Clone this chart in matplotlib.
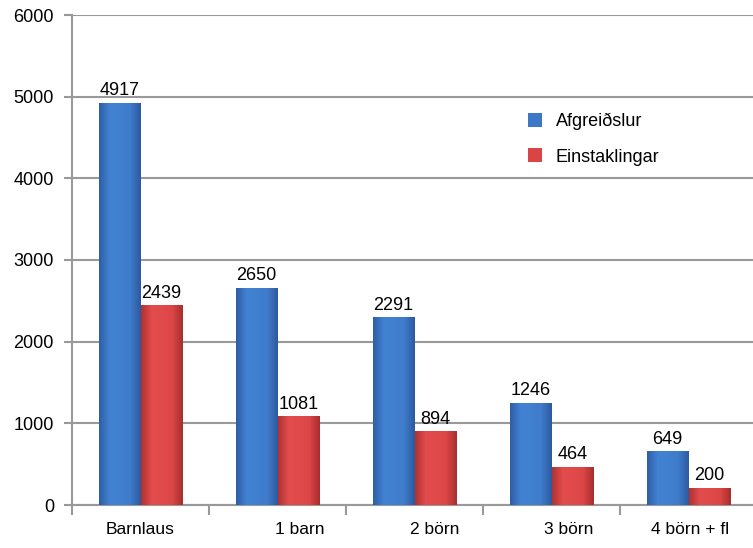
import matplotlib
matplotlib.use("Agg")
import matplotlib.pyplot as plt
from matplotlib.colors import LinearSegmentedColormap
import numpy as np

categories = ["Barnlaus", "1 barn", "2 börn", "3 börn", "4 börn + fl"]
afgreidslur = [4917, 2650, 2291, 1246, 649]
einstaklingar = [2439, 1081, 894, 464, 200]
series_names = ["Afgreiðslur", "Einstaklingar"]
yticks = [0, 1000, 2000, 3000, 4000, 5000, 6000]

# style: horizontal pixel nudges of category labels as in the reference
label_nudge_px = [0, 22, 20, 17, 2]

plt.rcParams['font.family'] = ['Liberation Sans', 'DejaVu Sans']

fig = plt.figure(figsize=(7.53, 5.48), dpi=100)
ax = fig.add_axes([72/753, 43/548, 685/753, 490/548])

x = np.arange(len(categories)) + 0.5
w = 0.305
blue = '#3d78c8'
red = '#d94444'
cmap_b = LinearSegmentedColormap.from_list('b', ['#2e5ea8', '#4282d2', '#4080cf', '#3f7ccb', '#2c5aa0'])
cmap_r = LinearSegmentedColormap.from_list('r', ['#b03232', '#e24c4c', '#e04a4a', '#dc4646', '#a82e2e'])
grad = np.linspace(0, 1, 64).reshape(1, -1)

b1 = ax.bar(x - w/2, afgreidslur, w, color=blue, linewidth=0, zorder=2, label=series_names[0])
b2 = ax.bar(x + w/2, einstaklingar, w, color=red, linewidth=0, zorder=2, label=series_names[1])
for bars, cm in ((b1, cmap_b), (b2, cmap_r)):
    for rect in bars:
        x0 = rect.get_x()
        ax.imshow(grad, extent=[x0, x0 + rect.get_width(), 0, rect.get_height()],
                  aspect='auto', cmap=cm, zorder=3, interpolation='bilinear')

for bars, vals in ((b1, afgreidslur), (b2, einstaklingar)):
    for rect, v in zip(bars, vals):
        ax.annotate(str(v), (rect.get_x() + rect.get_width()/2, v), xytext=(0, 3),
                    textcoords='offset points', ha='center', va='bottom', fontsize=13, zorder=4)

ax.set_xlim(0, len(categories))
ax.set_ylim(0, 6000)
ax.set_yticks(yticks)
ax.set_yticklabels([str(t) for t in yticks], fontsize=13)
ax.set_xticks(np.arange(len(categories) + 1))
ax.set_xticklabels([''] * (len(categories) + 1))
ax.tick_params(axis='x', which='major', length=7, color='#999999', width=1.5)
ax.tick_params(axis='y', length=6, color='#999999', width=1.5, pad=7)

slot_px = 685 / len(categories)
for xi, lab, nud in zip(x, categories, label_nudge_px):
    ax.text(xi + nud / slot_px, -300, lab, ha='center', va='center', fontsize=12.5)

ax.grid(axis='y', color='#999999', linewidth=1.5, zorder=0)
ax.set_axisbelow(True)
for s in ['top', 'right']:
    ax.spines[s].set_visible(False)
for s in ['left', 'bottom']:
    ax.spines[s].set_color('#999999')
    ax.spines[s].set_linewidth(1.5)

leg = ax.legend(loc='upper left', bbox_to_anchor=(0.665, 0.80), frameon=False,
                fontsize=13, handlelength=0.8, handleheight=0.8, labelspacing=1.0,
                handletextpad=0.75, borderpad=0, borderaxespad=0)

fig.savefig('out.png', dpi=100)
